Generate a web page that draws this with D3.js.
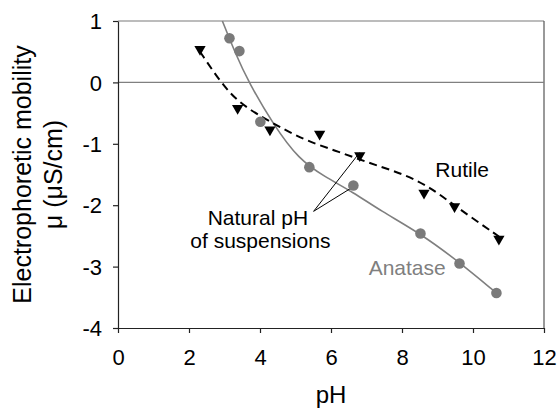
<!DOCTYPE html>
<html>
<head>
<meta charset="utf-8">
<script src="https://cdn.jsdelivr.net/npm/d3@7"></script>
<style>
  body { margin: 0; background: #fff; }
  text { font-family: "Liberation Sans", Arial, sans-serif; }
</style>
</head>
<body>
<div id="chart"></div>
<script>
// measured points
const anatasePH = [3.14, 3.42, 4.01, 5.39, 6.63, 8.52, 9.62, 10.66];
const anataseMu = [0.72, 0.51, -0.64, -1.38, -1.68, -2.46, -2.95, -3.43];
const rutilePH = [2.31, 3.37, 4.28, 5.68, 6.81, 8.62, 9.48, 10.73];
const rutileMu = [0.54, -0.42, -0.77, -0.84, -1.19, -1.80, -2.02, -2.55];

// fitted trend lines
const anataseFitPH = [2.94, 3.3, 3.68, 4.39, 5.09, 5.8, 6.63, 7.39, 8.52, 9.62, 10.66];
const anataseFitMu = [1.0, 0.48, 0.0, -0.70, -1.25, -1.53, -1.79, -2.09, -2.46, -2.93, -3.43];
const rutileFitPH = [2.31, 2.89, 3.4, 4.1, 4.6, 5.3, 6.22, 7.11, 8.04, 8.8, 9.46, 10.73];
const rutileFitMu = [0.50, 0.0, -0.33, -0.58, -0.74, -0.95, -1.13, -1.32, -1.49, -1.71, -2.0, -2.51];

const xTicks = [0, 2, 4, 6, 8, 10, 12];
const yTicks = [1, 0, -1, -2, -3, -4];

function drawChart() {
  const width = 558;
  const height = 409;
  const left = 118, right = 544, top = 21, bottom = 328;

  let x = d3.scaleLinear().domain([0, 12]).range([left, right]);
  let y = d3.scaleLinear().domain([-4, 1]).range([bottom, top]);

  let svg = d3
    .select("#chart")
    .append("svg")
    .attr("width", width)
    .attr("height", height);

  // frame (top + right) and zero line
  svg.append("line")
    .attr("x1", left).attr("x2", right).attr("y1", y(1)).attr("y2", y(1))
    .attr("stroke", "#7a7a7a").attr("stroke-width", 1.2);
  svg.append("line")
    .attr("x1", right).attr("x2", right).attr("y1", y(1)).attr("y2", y(-4))
    .attr("stroke", "#555").attr("stroke-width", 1.2);
  svg.append("line")
    .attr("x1", left).attr("x2", right).attr("y1", y(0)).attr("y2", y(0))
    .attr("stroke", "#808080").attr("stroke-width", 1.2);

  let xAxis = d3.axisBottom(x).tickValues(xTicks).tickSize(5).tickSizeOuter(0);
  let yAxis = d3.axisLeft(y).tickValues(yTicks).tickSize(5).tickSizeOuter(0)
    .tickFormat((d) => d);

  let gx = svg.append("g")
    .attr("transform", "translate(0," + bottom + ")")
    .call(xAxis);
  gx.selectAll("text")
    .attr("dy", 0).attr("y", 37)
    .style("font-size", "22px").attr("fill", "#000");

  let gy = svg.append("g")
    .attr("transform", "translate(" + left + ",0)")
    .call(yAxis);
  gy.selectAll("text")
    .attr("x", -16).attr("dy", "0.35em")
    .style("font-size", "22px").attr("fill", "#000");

  svg.selectAll(".domain, .tick line").attr("stroke", "#222").attr("stroke-width", 1.2);

  // fitted lines
  let line = d3.line()
    .x((d) => x(d[0]))
    .y((d) => y(d[1]))
    .curve(d3.curveBasis);

  svg.append("path")
    .datum(anataseFitPH.map((p, i) => [p, anataseFitMu[i]]))
    .attr("d", line)
    .attr("fill", "none")
    .attr("stroke", "#7f7f7f")
    .attr("stroke-width", 1.6);

  svg.append("path")
    .datum(rutileFitPH.map((p, i) => [p, rutileFitMu[i]]))
    .attr("d", line)
    .attr("fill", "none")
    .attr("stroke", "#000")
    .attr("stroke-width", 2)
    .attr("stroke-dasharray", "8,5");

  // annotation pointers to the natural-pH points
  const noteStart = [5.51, -2.1];
  svg.append("line")
    .attr("x1", x(noteStart[0])).attr("y1", y(noteStart[1]))
    .attr("x2", x(rutilePH[4])).attr("y2", y(rutileMu[4]) - 3)
    .attr("stroke", "#000").attr("stroke-width", 1);
  svg.append("line")
    .attr("x1", x(noteStart[0])).attr("y1", y(noteStart[1]))
    .attr("x2", x(anatasePH[4]) - 3).attr("y2", y(anataseMu[4]) + 3)
    .attr("stroke", "#000").attr("stroke-width", 1);

  // markers
  svg.selectAll("circle")
    .data(anatasePH)
    .enter()
    .append("circle")
    .attr("cx", (d) => x(d))
    .attr("cy", (d, i) => y(anataseMu[i]))
    .attr("r", 5.3)
    .attr("fill", "#7a7a7a");

  let tri = d3.symbol().type(d3.symbolTriangle).size(55);
  svg.selectAll(".tri")
    .data(rutilePH)
    .enter()
    .append("path")
    .attr("class", "tri")
    .attr("d", tri)
    .attr("transform", (d, i) => "translate(" + x(d) + "," + y(rutileMu[i]) + ") rotate(180)")
    .attr("fill", "#000");

  // labels
  svg.append("text")
    .attr("x", x(3.94)).attr("y", y(-2.33))
    .attr("text-anchor", "middle")
    .style("font-size", "21px")
    .text("Natural pH");
  svg.append("text")
    .attr("x", x(4.01)).attr("y", y(-2.7))
    .attr("text-anchor", "middle")
    .style("font-size", "21px")
    .text("of suspensions");
  svg.append("text")
    .attr("x", x(8.94)).attr("y", y(-1.54))
    .style("font-size", "21px")
    .text("Rutile");
  svg.append("text")
    .attr("x", x(7.06)).attr("y", y(-3.14))
    .style("font-size", "21px")
    .attr("fill", "#7f7f7f")
    .text("Anatase");

  // axis titles
  svg.append("text")
    .attr("x", (left + right) / 2).attr("y", 403)
    .attr("text-anchor", "middle")
    .style("font-size", "24px")
    .text("pH");

  let yt = svg.append("text")
    .attr("transform", "translate(31," + (top + bottom) / 2 + ") rotate(-90)")
    .attr("text-anchor", "middle")
    .style("font-size", "25px");
  yt.append("tspan").attr("x", 0).attr("y", 0).text("Electrophoretic mobility");
  yt.append("tspan").attr("x", 0).attr("y", 31).text("\u03bc (\u03bcS/cm)");
}

drawChart();
</script>
</body>
</html>
